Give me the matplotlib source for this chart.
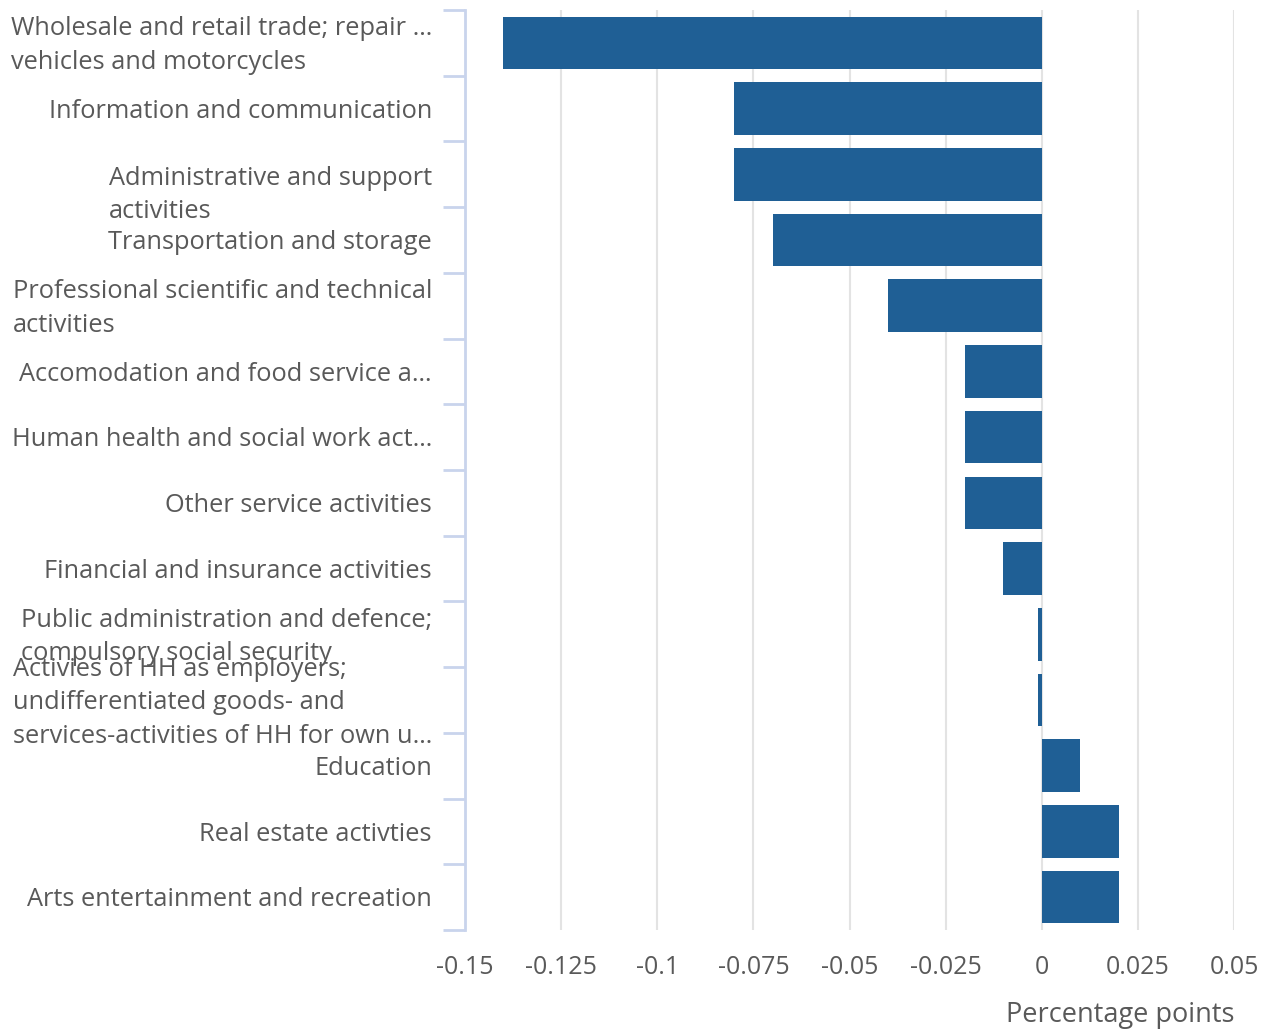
import matplotlib.pyplot as plt
from matplotlib.transforms import offset_copy

plt.rcParams["font.family"] = ["Open Sans", "DejaVu Sans"]

CATEGORIES = [
    "Wholesale and retail trade; repair …\nvehicles and motorcycles",
    "Information and communication",
    "Administrative and support\nactivities",
    "Transportation and storage",
    "Professional scientific and technical\nactivities",
    "Accomodation and food service a…",
    "Human health and social work act…",
    "Other service activities",
    "Financial and insurance activities",
    "Public administration and defence;\ncompulsory social security",
    "Activies of HH as employers;\nundifferentiated goods- and\nservices-activities of HH for own u…",
    "Education",
    "Real estate activties",
    "Arts entertainment and recreation",
]
VALUES = [-0.14, -0.08, -0.08, -0.07, -0.04, -0.02, -0.02, -0.02, -0.01,
          -0.001, -0.001, 0.01, 0.02, 0.02]
XTICKS = [-0.15, -0.125, -0.1, -0.075, -0.05, -0.025, 0, 0.025, 0.05]
XTICK_LABELS = ["-0.15", "-0.125", "-0.1", "-0.075", "-0.05", "-0.025", "0", "0.025", "0.05"]

BAR = "#1f5f95"
SPINE = "#c9d4ec"
GRID = "#e3e3e3"
TEXT = "#595959"
# vertical nudge (points, negative = down) for labels that sit off-centre
LABEL_NUDGE = {2: -15}

fig = plt.figure(figsize=(12.66, 10.29), dpi=100)
ax = fig.add_axes([0.3673, 0.0962, 0.6075, 0.8941])

n = len(CATEGORIES)
ypos = list(range(n))
ax.barh(ypos, VALUES, height=0.8, color=BAR, zorder=3)
ax.set_ylim(n - 0.5, -0.5)
ax.set_xlim(-0.15, 0.05)

ax.set_xticks(XTICKS)
ax.set_xticklabels(XTICK_LABELS)
ax.tick_params(axis="x", length=0, pad=18, labelsize=18, labelcolor=TEXT)
ax.grid(axis="x", color=GRID, linewidth=1.5, zorder=0)

ax.set_yticks([])
ax.set_yticks([i - 0.5 for i in range(n + 1)], minor=True)
ax.tick_params(axis="y", which="minor", length=16, width=2, color=SPINE)

for side in ["top", "right", "bottom"]:
    ax.spines[side].set_visible(False)
ax.spines["left"].set_color(SPINE)
ax.spines["left"].set_linewidth(2)

trans = ax.get_yaxis_transform()
for i, label in enumerate(CATEGORIES):
    t = offset_copy(trans, fig=fig, x=0, y=LABEL_NUDGE.get(i, -2), units="points")
    ax.text(-0.043, i, label, transform=t, ha="right", va="center",
            multialignment="left", fontsize=18.3, color=TEXT, linespacing=1.45)

ax.text(1.0, -0.077, "Percentage points", transform=ax.transAxes, ha="right",
        va="top", fontsize=19.5, color=TEXT)

fig.savefig("out.png", dpi=100)
